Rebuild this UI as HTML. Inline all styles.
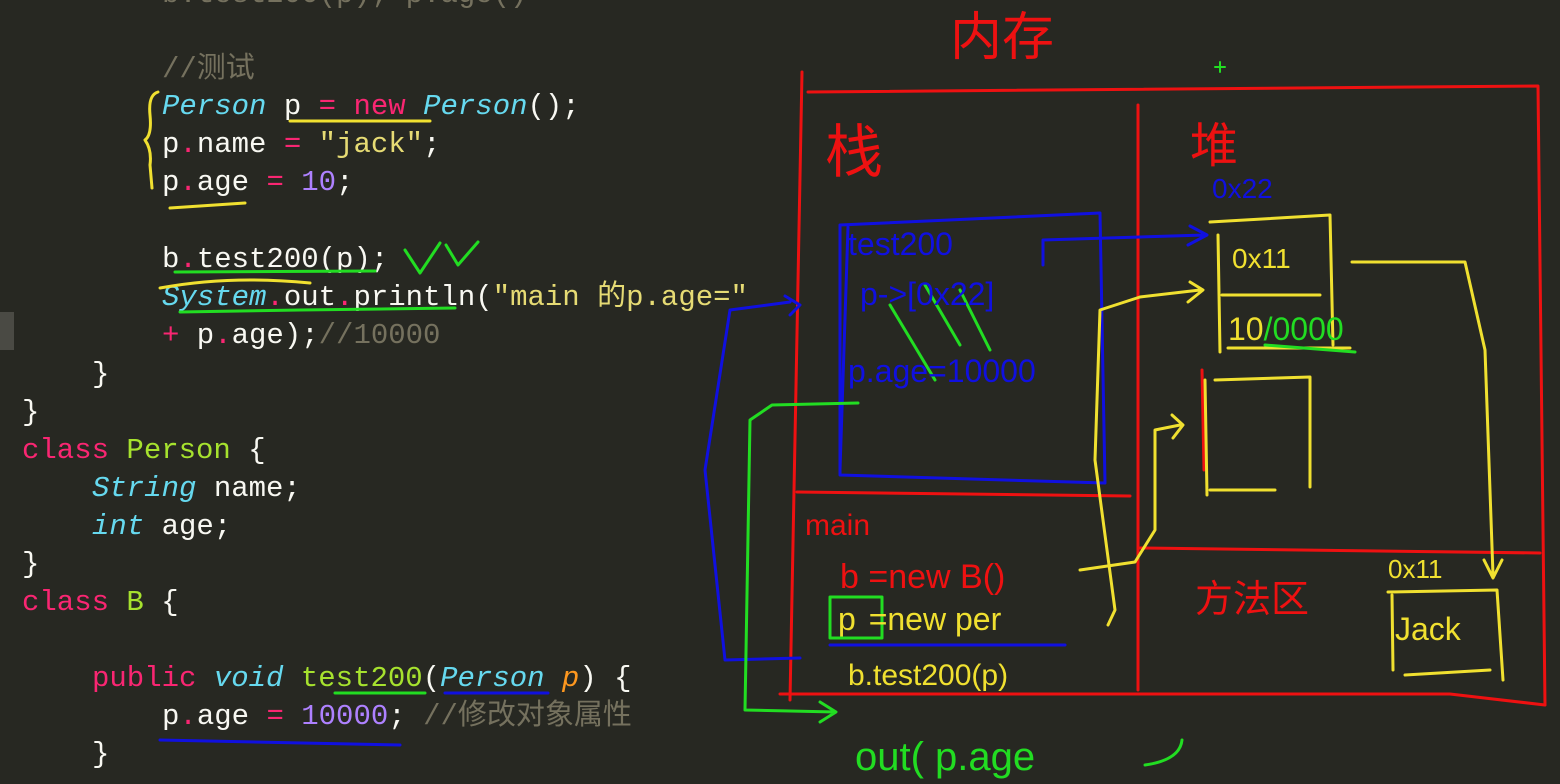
<!DOCTYPE html>
<html><head><meta charset="utf-8"><style>
html,body{margin:0;padding:0;background:#272822;}
svg{display:block;}
.c{font-family:"Liberation Mono","Noto Sans CJK SC",monospace;font-size:29px;fill:#f8f8f2;}
.h{font-family:"Liberation Sans","Noto Sans CJK SC",sans-serif;}
</style></head><body>
<svg width="1560" height="784" viewBox="0 0 1560 784" xmlns="http://www.w3.org/2000/svg">
<rect width="1560" height="784" fill="#272822"/>
<rect x="0" y="312" width="14" height="38" fill="#4a4a44"/>
<g class="c">
<text x="162" y="2" fill="#75715e">b.test200(p); p.age()</text>
<text x="162" y="77" fill="#75715e">//测试</text>
<text x="162" y="114"><tspan fill="#66d9ef" font-style="italic">Person</tspan> p <tspan fill="#f92672">=</tspan> <tspan fill="#f92672">new</tspan> <tspan fill="#66d9ef" font-style="italic">Person</tspan>();</text>
<text x="162" y="152">p<tspan fill="#f92672">.</tspan>name <tspan fill="#f92672">=</tspan> <tspan fill="#e6db74">"jack"</tspan>;</text>
<text x="162" y="190">p<tspan fill="#f92672">.</tspan>age <tspan fill="#f92672">=</tspan> <tspan fill="#ae81ff">10</tspan>;</text>
<text x="162" y="267">b<tspan fill="#f92672">.</tspan>test200(p);</text>
<text x="162" y="305"><tspan fill="#66d9ef" font-style="italic">System</tspan><tspan fill="#f92672">.</tspan>out<tspan fill="#f92672">.</tspan>println(<tspan fill="#e6db74">"main 的p.age="</tspan></text>
<text x="162" y="343"><tspan fill="#f92672">+</tspan> p<tspan fill="#f92672">.</tspan>age);<tspan fill="#75715e">//10000</tspan></text>
<text x="92" y="382">}</text>
<text x="22" y="420">}</text>
<text x="22" y="458"><tspan fill="#f92672">class</tspan> <tspan fill="#a6e22e">Person</tspan> {</text>
<text x="92" y="496"><tspan fill="#66d9ef" font-style="italic">String</tspan> name;</text>
<text x="92" y="534"><tspan fill="#66d9ef" font-style="italic">int</tspan> age;</text>
<text x="22" y="572">}</text>
<text x="22" y="610"><tspan fill="#f92672">class</tspan> <tspan fill="#a6e22e">B</tspan> {</text>
<text x="92" y="686"><tspan fill="#f92672">public</tspan> <tspan fill="#66d9ef" font-style="italic">void</tspan> <tspan fill="#a6e22e">test200</tspan>(<tspan fill="#66d9ef" font-style="italic">Person</tspan> <tspan fill="#fd971f" font-style="italic">p</tspan>) {</text>
<text x="162" y="724">p<tspan fill="#f92672">.</tspan>age <tspan fill="#f92672">=</tspan> <tspan fill="#ae81ff">10000</tspan>; <tspan fill="#75715e">//修改对象属性</tspan></text>
<text x="92" y="762">}</text>
</g>
<g fill="none" stroke-width="3" stroke-linecap="round" stroke-linejoin="round">
<path d="M158 92 Q148 95 150 115 Q152 135 145 140 Q152 150 150 165 L152 188" stroke="#f0e030"/>
<path d="M290 121 L430 121" stroke="#f0e030"/>
<path d="M170 208 L245 203" stroke="#f0e030"/>
<path d="M160 288 Q230 275 310 283" stroke="#f0e030"/>
<path d="M175 272 L375 271" stroke="#22dd22"/>
<path d="M180 312 L300 310 L455 308" stroke="#22dd22"/>
<path d="M405 250 L420 273 L440 243 M446 245 L458 265 L478 242" stroke="#22dd22"/>
<path d="M335 693 L425 693" stroke="#22dd22"/>
<path d="M445 693 L548 693" stroke="#1010e0"/>
<path d="M160 740 L400 745" stroke="#1010e0"/>
<path d="M802 72 L790 700" stroke="#ee1111"/>
<path d="M808 92 L1538 86 L1545 705" stroke="#ee1111"/>
<path d="M1138 105 L1138 690" stroke="#ee1111"/>
<path d="M797 492 L1130 496" stroke="#ee1111"/>
<path d="M1140 548 L1540 553" stroke="#ee1111"/>
<path d="M780 694 L1450 694 L1545 705" stroke="#ee1111"/>
<path d="M1202 370 L1204 470" stroke="#ee1111"/>
<path d="M840 225 L1100 213 L1105 483 L840 475 Z M848 227 L840 470" stroke="#1010e0"/>
<path d="M1043 265 L1043 240 L1205 235 M1190 226 L1207 235 L1188 245" stroke="#1010e0"/>
<path d="M800 658 L725 660 L705 470 L730 310 L790 302 M785 296 L800 305 L790 315" stroke="#1010e0"/>
<path d="M830 645 L1065 645" stroke="#1010e0"/>
<path d="M1210 222 L1330 215 L1333 345 M1218 235 L1220 352 M1222 295 L1320 295 M1228 348 L1350 348" stroke="#f0e030"/>
<path d="M1215 380 L1310 377 L1310 487 M1205 380 L1207 495 M1210 490 L1275 490" stroke="#f0e030"/>
<path d="M1352 262 L1465 262 L1485 350 L1493 575 M1484 560 L1493 578 L1502 560" stroke="#f0e030"/>
<path d="M1388 592 L1497 590 L1503 680 M1392 595 L1393 670 M1405 675 L1490 670" stroke="#f0e030"/>
<path d="M1080 570 L1135 562 L1155 530 L1155 430 L1180 425 M1172 415 L1183 425 L1173 438" stroke="#f0e030"/>
<path d="M1108 625 L1115 610 L1095 460 L1100 310 L1140 297 L1200 290 M1190 282 L1203 290 L1188 302" stroke="#f0e030"/>
<path d="M890 305 L935 380 M925 285 L960 345 M960 290 L990 350" stroke="#22dd22"/>
<path d="M1265 345 L1355 352" stroke="#22dd22"/>
<path d="M858 403 L772 405 L750 420 L745 710 L835 712 M820 702 L836 712 L820 722" stroke="#22dd22"/>
<rect x="830" y="597" width="52" height="41" stroke="#22dd22"/>
<path d="M1145 765 Q1180 760 1182 740" stroke="#22dd22"/>
<path d="M1220 62 L1220 72 M1215 67 L1225 67" stroke="#22dd22" stroke-width="2"/>
</g>
<g class="h">
<text x="950" y="55" font-size="52" fill="#ee1111">内存</text>
<text x="825" y="172" font-size="58" fill="#ee1111">栈</text>
<text x="1190" y="162" font-size="48" fill="#ee1111">堆</text>
<text x="805" y="535" font-size="30" fill="#ee1111">main</text>
<text x="840" y="588" font-size="34" fill="#ee1111">b =new B()</text>
<text x="1195" y="612" font-size="38" fill="#ee1111">方法区</text>
<text x="1212" y="198" font-size="28" fill="#1010e0">0x22</text>
<text x="848" y="255" font-size="32" fill="#1010e0">test200</text>
<text x="860" y="305" font-size="32" fill="#1010e0">p-&gt;[0x22]</text>
<text x="848" y="382" font-size="32" fill="#1010e0">p.age=10000</text>
<text x="1232" y="268" font-size="28" fill="#f0e030">0x11</text>
<text x="1228" y="340" font-size="32" fill="#f0e030">10<tspan fill="#22dd22">/0000</tspan></text>
<text x="1388" y="578" font-size="26" fill="#f0e030">0x11</text>
<text x="1395" y="640" font-size="32" fill="#f0e030">Jack</text>
<text x="838" y="630" font-size="32" fill="#f0e030">p <tspan dx="4">=new per</tspan></text>
<text x="848" y="685" font-size="30" fill="#f0e030">b.test200(p)</text>
<text x="855" y="770" font-size="40" fill="#22dd22">out( p.age</text>
</g>
</svg>
</body></html>
